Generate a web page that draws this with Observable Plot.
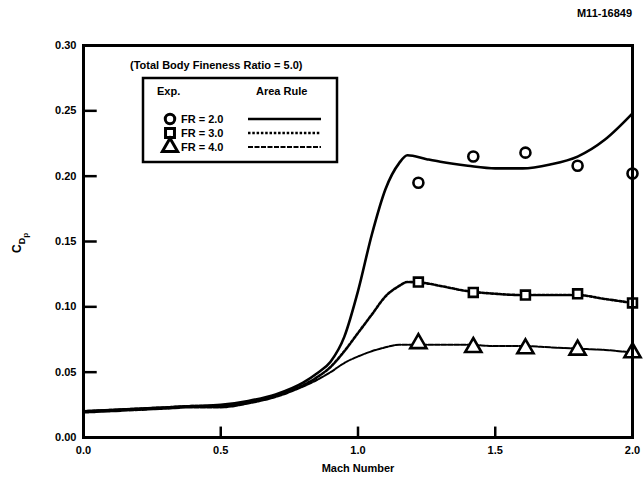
<!DOCTYPE html>
<html><head><meta charset="utf-8">
<script src="https://cdn.jsdelivr.net/npm/d3@7"></script>
<script src="https://cdn.jsdelivr.net/npm/@observablehq/plot@0.6"></script>
<style>
body{margin:0;background:#fff;font-family:"Liberation Sans",Arial,sans-serif}
#chart{position:relative;width:643px;height:479px}
</style>
</head><body><div id="chart"></div>
<script>
// Area Rule (theory) curves
const machCurve = [0, 0.1, 0.2, 0.3, 0.4, 0.5, 0.6, 0.7, 0.8, 0.85, 0.9, 0.95, 1.0, 1.05, 1.1, 1.15, 1.18, 1.25, 1.3, 1.4, 1.5, 1.6, 1.7, 1.8, 1.9, 2.0];
const cdpArea20 = [0.020, 0.021, 0.022, 0.023, 0.024, 0.025, 0.028, 0.033, 0.042, 0.049, 0.058, 0.077, 0.112, 0.155, 0.190, 0.210, 0.216, 0.213, 0.211, 0.208, 0.206, 0.206, 0.209, 0.215, 0.228, 0.248];
const cdpArea30 = [0.020, 0.021, 0.022, 0.023, 0.024, 0.024, 0.027, 0.032, 0.040, 0.046, 0.054, 0.066, 0.080, 0.094, 0.108, 0.116, 0.119, 0.118, 0.116, 0.112, 0.110, 0.109, 0.109, 0.109, 0.106, 0.103];
const cdpArea40 = [0.019, 0.020, 0.021, 0.022, 0.023, 0.023, 0.026, 0.031, 0.039, 0.044, 0.050, 0.057, 0.062, 0.066, 0.069, 0.071, 0.071, 0.071, 0.071, 0.071, 0.070, 0.070, 0.069, 0.068, 0.067, 0.065];

// Experimental points
const machExp = [1.22, 1.42, 1.61, 1.80, 2.0];
const cdpExp20 = [0.195, 0.215, 0.218, 0.208, 0.202];
const cdpExp30 = [0.119, 0.111, 0.109, 0.110, 0.103];
const cdpExp40 = [0.072, 0.069, 0.068, 0.067, 0.065];

// Tick values
const xTicks = [0, 0.5, 1.0, 1.5, 2.0];
const yTicks = [0, 0.05, 0.10, 0.15, 0.20, 0.25, 0.30];

const seriesLabels = ["FR = 2.0", "FR = 3.0", "FR = 4.0"];
const titleText = "(Total Body Fineness Ratio = 5.0)";
const figId = "M11-16849";

const curve = (ys) => machCurve.map((m, i) => ({m, c: ys[i]}));
const exp = (ys) => machExp.map((m, i) => ({m, c: ys[i]}));

const W = 643, H = 479;
const font = '"Liberation Sans", Arial, sans-serif';

const chart = Plot.plot({
  width: W, height: H,
  marginLeft: 83, marginRight: 11, marginTop: 45, marginBottom: 42,
  style: {fontFamily: font, fontSize: "11px", fontWeight: "bold", color: "#000", background: "#fff"},
  x: {domain: [0, 2], label: null},
  y: {domain: [0, 0.3], label: null},
  marks: [
    Plot.ruleY(yTicks.slice(1, -1), {x1: 0, x2: 0.05, stroke: "#000", strokeWidth: 2.5}),
    Plot.ruleX(xTicks.slice(1, -1), {y1: 0, y2: 0.008, stroke: "#000", strokeWidth: 2.5}),
    Plot.line(curve(cdpArea20), {x: "m", y: "c", curve: "monotone-x", stroke: "#000", strokeWidth: 2.6}),
    Plot.line(curve(cdpArea30), {x: "m", y: "c", curve: "monotone-x", stroke: "#000", strokeWidth: 2.6, strokeDasharray: "2.5,1.8"}),
    Plot.line(curve(cdpArea40), {x: "m", y: "c", curve: "monotone-x", stroke: "#000", strokeWidth: 2, strokeDasharray: "5,1.5"}),
    Plot.dot(exp(cdpExp20), {x: "m", y: "c", symbol: "circle", r: 5, fill: "#fff", stroke: "#000", strokeWidth: 2.6}),
    Plot.dot(exp(cdpExp30), {x: "m", y: "c", symbol: "square", r: 5, fill: "#fff", stroke: "#000", strokeWidth: 2.6}),
    Plot.dot(exp(cdpExp40), {x: "m", y: "c", symbol: "triangle", r: 6, fill: "#fff", stroke: "#000", strokeWidth: 2.6}),
    Plot.frame({stroke: "#000", strokeWidth: 3}),
    Plot.axisX({ticks: xTicks, tickFormat: d3.format(".1f"), tickSize: 0, tickPadding: 9}),
    Plot.axisY({ticks: yTicks, tickFormat: d3.format(".2f"), tickSize: 0, tickPadding: 7}),
    Plot.text(["Mach Number"], {frameAnchor: "bottom", dy: 34, fontSize: 11, fontWeight: "bold"})
  ]
});

document.getElementById("chart").appendChild(chart);
const svg = d3.select(chart);

// figure id
svg.append("text").attr("x", 632).attr("y", 17).attr("text-anchor", "end")
  .attr("font-family", font).attr("font-size", 11).attr("font-weight", "bold").text(figId);

// title inside plot
svg.append("text").attr("x", 130).attr("y", 69).attr("text-anchor", "start")
  .attr("font-family", font).attr("font-size", 11).attr("font-weight", "bold").text(titleText);

// y label C_Dp
const yl = svg.append("text").attr("transform", "translate(21,243) rotate(-90)")
  .attr("text-anchor", "middle").attr("font-family", font).attr("font-weight", "bold").attr("font-size", 12);
yl.append("tspan").text("C");
yl.append("tspan").attr("font-size", 9).attr("dy", 4).text("D");
yl.append("tspan").attr("font-size", 8).attr("dy", 3).text("p");

// legend
const lg = svg.append("g").attr("font-family", font).attr("font-weight", "bold").attr("font-size", 11)
  .attr("text-anchor", "start");
const bx = 143, by = 78, bw = 194, bh = 84;
lg.append("rect").attr("x", bx).attr("y", by).attr("width", bw).attr("height", bh)
  .attr("fill", "#fff").attr("stroke", "#000").attr("stroke-width", 2.5);
lg.append("text").attr("x", bx + 14).attr("y", by + 17).text("Exp.");
lg.append("text").attr("x", bx + 113).attr("y", by + 17).text("Area Rule");
const dashes = [null, "2.5,1.8", "5,1.5"];
const syms = [d3.symbolCircle, d3.symbolSquare, d3.symbolTriangle];
const symSize = [70, 80, 100];
seriesLabels.forEach((lab, i) => {
  const yy = by + 41 + i * 14;
  lg.append("path").attr("d", d3.symbol(syms[i], symSize[i])())
    .attr("transform", `translate(${bx + 27},${yy})`)
    .attr("fill", "#fff").attr("stroke", "#000").attr("stroke-width", 3);
  lg.append("text").attr("x", bx + 38).attr("y", yy + 4).text(lab);
  lg.append("line").attr("x1", bx + 105).attr("x2", bx + 178).attr("y1", yy).attr("y2", yy)
    .attr("stroke", "#000").attr("stroke-width", i === 2 ? 2 : 2.5)
    .attr("stroke-dasharray", dashes[i]);
});
</script>
</body></html>
